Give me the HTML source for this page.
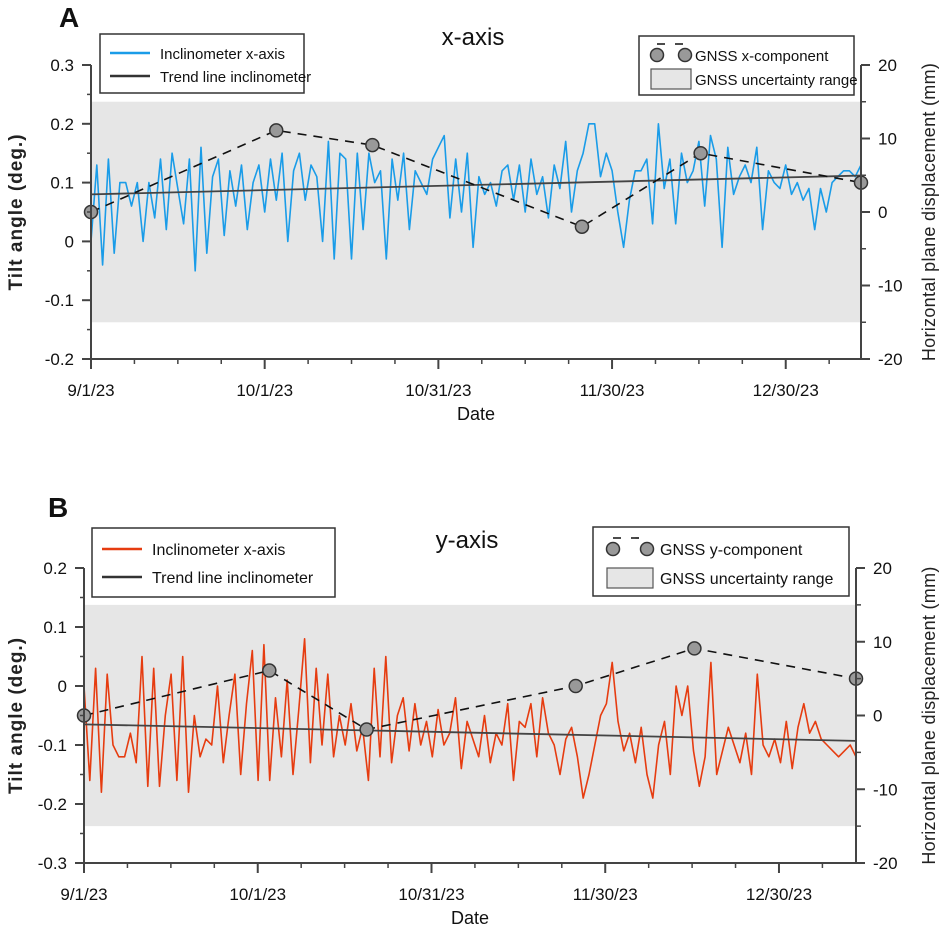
<!DOCTYPE html>
<html><head><meta charset="utf-8"><style>
html,body{margin:0;padding:0;background:#fff;}
svg{display:block;font-family:"Liberation Sans",sans-serif;}
</style></head><body>
<svg id="chart" width="941" height="926" viewBox="0 0 941 926" xmlns="http://www.w3.org/2000/svg"></svg>
<script>
// ---- data ----
const tickDates = ["9/1/23","10/1/23","10/31/23","11/30/23","12/30/23"];
const tickDays = [0,30,60,90,120];
const leftTicksA = [0.3,0.2,0.1,0,-0.1,-0.2];
const leftTicksB = [0.2,0.1,0,-0.1,-0.2,-0.3];
const rightTicks = [20,10,0,-10,-20];
const incA = [0.00,0.13,-0.04,0.14,-0.02,0.10,0.10,0.06,0.10,0.00,0.10,0.04,0.14,0.02,0.15,0.09,0.03,0.14,-0.05,0.16,-0.02,0.11,0.14,0.01,0.12,0.06,0.13,0.02,0.10,0.13,0.05,0.14,0.07,0.15,0.00,0.12,0.15,0.07,0.13,0.11,0.00,0.17,-0.03,0.15,0.14,-0.03,0.15,0.02,0.15,0.10,0.12,-0.03,0.14,0.07,0.15,0.02,0.12,0.10,0.08,0.14,
0.16,0.18,0.04,0.14,0.05,0.15,-0.01,0.11,0.08,0.10,0.06,0.12,0.13,0.07,0.13,0.05,0.14,0.08,0.11,0.04,0.13,0.09,0.17,0.05,0.12,0.15,
0.20,0.20,0.11,0.15,0.12,0.05,-0.01,0.07,0.12,0.12,0.14,0.03,0.20,0.09,
0.14,0.03,0.15,0.10,0.12,0.17,0.06,0.18,0.14,-0.01,0.16,0.08,0.11,0.13,0.10,0.16,0.02,0.12,0.10,0.09,0.13,0.08,0.10,0.07,0.09,0.02,0.09,0.05,0.10,0.11,0.12,0.12,0.11,0.13];
const incB = [0.00,-0.16,0.03,-0.18,0.02,-0.10,-0.12,-0.12,-0.08,-0.13,0.05,-0.17,0.03,-0.17,-0.05,0.02,-0.16,0.05,-0.18,-0.05,-0.12,-0.09,-0.10,0.00,-0.13,-0.05,0.02,-0.15,-0.03,0.06,-0.16,0.07,-0.16,-0.02,-0.12,0.01,-0.15,-0.04,0.08,-0.13,0.03,-0.10,0.02,-0.12,-0.05,-0.10,-0.03,-0.11,-0.07,-0.16,0.03,-0.12,0.05,-0.13,-0.05,-0.02,-0.11,-0.03,-0.10,-0.06,
-0.12,-0.04,-0.10,-0.08,-0.02,-0.14,-0.06,-0.09,-0.12,-0.05,-0.13,-0.08,-0.10,-0.03,-0.16,-0.06,-0.07,-0.03,-0.12,-0.02,-0.08,-0.10,-0.15,-0.09,-0.07,-0.12,
-0.19,-0.15,-0.10,-0.05,-0.03,0.04,-0.06,-0.11,-0.08,-0.13,-0.07,-0.15,-0.19,-0.10,
-0.06,-0.15,0.00,-0.05,0.00,-0.11,-0.17,-0.12,0.04,-0.15,-0.11,-0.07,-0.10,-0.13,-0.08,-0.15,0.02,-0.10,-0.12,-0.09,-0.13,-0.06,-0.14,-0.07,-0.03,-0.08,-0.06,-0.09,-0.10,-0.11,-0.12,-0.11,-0.10,-0.12];
const trendA = [0.080,0.112];
const trendB = [-0.065,-0.093];
const gnssDaysA = [0,32,48.6,84.8,105.3,133];
const gnssValsA = [0,11.1,9.1,-2.0,8.0,4.0];
const gnssDaysB = [0,32,48.8,84.9,105.4,133.3];
const gnssValsB = [0,6.1,-1.9,4.0,9.1,5.0];
const uncertainty = [15,-15];

const NS="http://www.w3.org/2000/svg";
const svg=document.getElementById('chart');
function mk(tag,attrs,parent,text){const e=document.createElementNS(NS,tag);for(const k in attrs)e.setAttribute(k,attrs[k]);if(text!==undefined)e.textContent=text;(parent||svg).appendChild(e);return e;}

function panel(cfg){
  const g=mk('g',{});
  
  
  const x0=cfg.x0,x1=cfg.x1,yTop=cfg.yTop,yBot=cfg.yBot;
  const lmax=cfg.lTicks[0],lmin=cfg.lTicks[cfg.lTicks.length-1];
  const X=d=>x0+(x1-x0)*d/cfg.maxDay;
  const YL=v=>yTop+(lmax-v)/(lmax-lmin)*(yBot-yTop);
  const YR=v=>yTop+(20-v)/40*(yBot-yTop);
  const band=mk('rect',{x:x0,y:YR(uncertainty[0]),width:x1-x0,height:YR(uncertainty[1])-YR(uncertainty[0]),fill:'#e6e6e6'},g);
  
  
  const n=cfg.inc.length;
  let p='';cfg.inc.forEach((v,i)=>{p+=(i?'L':'M')+X(i*cfg.maxDay/(n-1)).toFixed(1)+','+YL(v).toFixed(1);});
  const line=mk('path',{d:p,fill:'none',stroke:cfg.color,'stroke-width':1.6,'stroke-linejoin':'round'},g);
  
  
  const tr=mk('line',{x1:X(0),y1:YL(cfg.trend[0]),x2:X(cfg.maxDay),y2:YL(cfg.trend[1]),stroke:'#444','stroke-width':1.8},g);
  
  
  let gp='';cfg.gd.forEach((d,i)=>{gp+=(i?'L':'M')+X(d).toFixed(1)+','+YR(cfg.gv[i]).toFixed(1);});
  const gl=mk('path',{d:gp,fill:'none',stroke:'#111','stroke-width':1.6,'stroke-dasharray':'9,7'},g);
  
  
  cfg.gd.forEach((d,i)=>{
    const c=mk('ellipse',{cx:X(d),cy:YR(cfg.gv[i]),rx:6.5,ry:6.5,fill:'#999',stroke:'#333','stroke-width':1.5},g);
    
    
  });
  const ax=mk('path',{d:`M${x0},${yTop}L${x0},${yBot}L${x1},${yBot}M${x1},${yTop}L${x1},${yBot}`,fill:'none',stroke:'#444','stroke-width':2},g);
  
  
  cfg.lTicks.forEach((v,i)=>{
    mk('line',{x1:x0-9,x2:x0,y1:YL(v),y2:YL(v),stroke:'#444','stroke-width':2},g);
    if(i<cfg.lTicks.length-1){const m=YL(v-0.05);mk('line',{x1:x0-4,x2:x0,y1:m,y2:m,stroke:'#444','stroke-width':1.5},g);}
    const t=mk('text',{x:x0-17,y:YL(v)+6,'text-anchor':'end','font-size':17,fill:'#111'},g,String(v));
    
    
  });
  rightTicks.forEach((v,i)=>{
    mk('line',{x1:x1,x2:x1+9,y1:YR(v),y2:YR(v),stroke:'#444','stroke-width':2},g);
    if(i<rightTicks.length-1){const m=YR(v-5);mk('line',{x1:x1,x2:x1+5,y1:m,y2:m,stroke:'#444','stroke-width':1.5},g);}
    const t=mk('text',{x:x1+17,y:YR(v)+6,'font-size':17,fill:'#111'},g,String(v));
    
    
  });
  for(let d=0;d<=cfg.maxDay;d+=7.5){
    const major=(d%30===0);
    mk('line',{x1:X(d),x2:X(d),y1:yBot,y2:yBot+(major?10:5),stroke:'#444','stroke-width':major?2:1.5},g);
  }
  tickDays.forEach((d,i)=>{
    const t=mk('text',{x:X(d),y:yBot+37,'text-anchor':'middle','font-size':17,fill:'#111'},g,tickDates[i]);
    
    
  });
  const dt=mk('text',{x:(x0+x1)/2,y:yBot+61,'text-anchor':'middle','font-size':18,fill:'#111'},g,'Date');
  
  
  const ym=(yTop+yBot)/2;
  const lt=mk('text',{x:0,y:0,transform:`translate(22,${ym}) rotate(-90)`,'text-anchor':'middle','font-size':19,'font-weight':'bold','letter-spacing':'1',fill:'#222'},g,'Tilt angle (deg.)');
  
  
  const rt=mk('text',{x:0,y:0,transform:`translate(935,${ym}) rotate(-90)`,'text-anchor':'middle','font-size':18,'letter-spacing':'0.3',fill:'#222'},g,'Horizontal plane displacement (mm)');
  
  
  const ti=mk('text',{x:cfg.titleX,y:cfg.titleY,'text-anchor':'middle','font-size':24,fill:'#111'},g,cfg.title);
  
  
  const pl=mk('text',{x:cfg.letterX,y:cfg.letterY,'font-size':28,'font-weight':'bold',fill:'#111'},g,cfg.letter);
  
  
  const L=cfg.lleg;
  const lg=mk('g',{},g);
  
  
  mk('rect',{x:L.x,y:L.y,width:L.w,height:L.h,fill:'#fff',stroke:'#333','stroke-width':1.5},lg);
  mk('line',{x1:L.x+10,x2:L.x+50,y1:L.r1,y2:L.r1,stroke:cfg.color,'stroke-width':2.5},lg);
  mk('text',{x:L.x+60,y:L.r1+6,'font-size':cfg.lfs,fill:'#111'},lg,'Inclinometer x-axis');
  mk('line',{x1:L.x+10,x2:L.x+50,y1:L.r2,y2:L.r2,stroke:'#333','stroke-width':2.5},lg);
  mk('text',{x:L.x+60,y:L.r2+6,'font-size':cfg.lfs,fill:'#111'},lg,'Trend line inclinometer');
  const R=cfg.rleg;
  const rg=mk('g',{},g);
  
  
  mk('rect',{x:R.x,y:R.y,width:R.w,height:R.h,fill:'#fff',stroke:'#333','stroke-width':1.5},rg);
  mk('line',{x1:R.c1,x2:R.c2,y1:R.r1-11,y2:R.r1-11,stroke:'#111','stroke-width':1.6,'stroke-dasharray':'8,10'},rg);
  mk('circle',{cx:R.c1,cy:R.r1,r:6.5,fill:'#999',stroke:'#333','stroke-width':1.5},rg);
  mk('circle',{cx:R.c2,cy:R.r1,r:6.5,fill:'#999',stroke:'#333','stroke-width':1.5},rg);
  mk('text',{x:R.tx,y:R.r1+6,'font-size':cfg.lfs,fill:'#111'},rg,cfg.gname);
  mk('rect',{x:R.c1-6,y:R.r2-10,width:R.c2-R.c1+12,height:20,fill:'#e6e6e6',stroke:'#555','stroke-width':1.2},rg);
  mk('text',{x:R.tx,y:R.r2+6,'font-size':cfg.lfs,fill:'#111'},rg,'GNSS uncertainty range');
}

panel({name:'panel-a',x0:91,x1:861,yTop:65,yBot:359,maxDay:133,lTicks:leftTicksA,inc:incA,trend:trendA,gd:gnssDaysA,gv:gnssValsA,color:'#1a9ce8',lfs:15,
  title:'x-axis',titleX:473,titleY:45,letter:'A',letterX:59,letterY:27,gname:'GNSS x-component',
  lleg:{x:100,y:34,w:204,h:59,r1:53,r2:76},rleg:{x:639,y:36,w:215,h:59,c1:657,c2:685,tx:695,r1:55,r2:79}});
panel({name:'panel-b',x0:84,x1:856,yTop:568,yBot:863,maxDay:133.3,lTicks:leftTicksB,inc:incB,trend:trendB,gd:gnssDaysB,gv:gnssValsB,color:'#e63c10',lfs:16,
  title:'y-axis',titleX:467,titleY:548,letter:'B',letterX:48,letterY:517,gname:'GNSS y-component',
  lleg:{x:92,y:528,w:243,h:69,r1:549,r2:577},rleg:{x:593,y:527,w:256,h:69,c1:613,c2:647,tx:660,r1:549,r2:578}});
</script>
</body></html>
